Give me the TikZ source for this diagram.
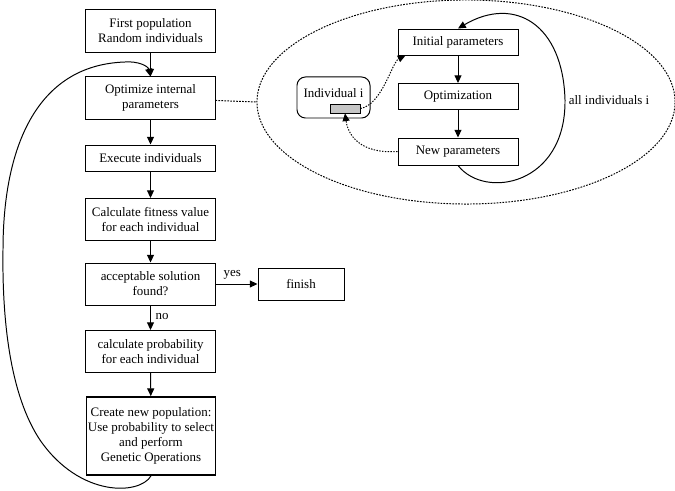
\documentclass[tikz,border=0pt]{standalone}
\usepackage{fontspec}
\setmainfont{Liberation Serif}
\usetikzlibrary{shapes.geometric, arrows.meta, positioning}

\begin{document}
\begin{tikzpicture}[x=0.025cm, y=-0.025cm,
    % Styles
    stepbox/.style={
        rectangle,
        draw,
        line width=0.7pt,
        minimum width=3.225cm,
        minimum height=1.05cm,
        align=center,
        inner sep=1pt,
        font=\fontsize{9.2}{10.6}\selectfont
    },
    innerbox/.style={stepbox, minimum width=3cm, minimum height=0.65cm},
    arrow/.style={
        -{Triangle[length=5.5pt,width=5pt]},
        line width=0.7pt
    },
    dotarrow/.style={
        -{Triangle[length=5.5pt,width=5pt]},
        line width=0.7pt,
        dash pattern=on 1pt off 1pt
    },
    label/.style={font=\fontsize{9.2}{10.6}\selectfont}
]
\useasboundingbox (0,0) rectangle (675,491);

% Main flow
\node[stepbox] (first) at (150.5,31) {First population\\Random individuals};
\node[stepbox] (optim) at (150.5,98) {Optimize internal\\parameters};
\node[stepbox, minimum height=0.65cm] (exec) at (150.5,158) {Execute individuals};
\node[stepbox] (fitness) at (150.5,219.5) {Calculate fitness value\\for each individual};
\node[stepbox] (accept) at (150.5,284) {acceptable solution\\found?};
\node[stepbox] (prob) at (150.5,351.5) {calculate probability\\for each individual};
\node[stepbox, line width=1.2pt, minimum height=1.95cm, inner sep=0.5pt] (newpop) at (151,436)
    {Create new population:\\Use probability to select\\and perform\\Genetic Operations};
\node[stepbox, minimum width=2.15cm, minimum height=0.8cm] (finish) at (301,284) {finish};

% Optimization detail
\node[ellipse, draw, line width=0.7pt, dash pattern=on 1.2pt off 0.9pt,
      minimum width=10.45cm, minimum height=5.1cm] (zone) at (466,102) {};
\node[innerbox] (init) at (458,42) {Initial parameters};
\node[innerbox] (opt) at (458,96.5) {Optimization};
\node[innerbox, minimum height=0.675cm] (newp) at (458,151.5) {New parameters};
\node[stepbox, rounded corners=6pt, minimum width=1.825cm, minimum height=1.025cm,
      text depth=6pt] (indiv) at (333.5,97.5) {Individual i};
\node[rectangle, draw, fill=gray!45, line width=0.5pt, minimum width=0.75cm,
      minimum height=0.225cm, inner sep=0pt] (patch) at (345,108.5) {};
\node[label] (allind) at (609,100) {all individuals i};

% Arrows
\draw[arrow] (first) -- (optim);
\draw[arrow] (optim) -- (exec);
\draw[arrow] (exec) -- (fitness);
\draw[arrow] (fitness) -- (accept);
\draw[arrow] (accept) -- node[label, above, pos=0.4] {yes} (finish);
\draw[arrow] (accept) -- node[label, right, pos=0.45] {no} (prob);
\draw[arrow] (prob) -- (newpop);
\draw[arrow] (newpop.south) .. controls (140,495) and (80,498) .. (40,440)
    .. controls (10,395) and (2,320) .. (3,250)
    .. controls (3,150) and (35,65) .. (125,62)
    .. controls (138,61) and (148,66) .. (optim.north);
\draw[line width=0.7pt, dash pattern=on 1.2pt off 0.9pt] (optim) -- (zone.west);

\draw[arrow] (init) -- (opt);
\draw[arrow] (opt) -- (newp);
\draw[arrow] (newp.south) .. controls (485,200) and (566,185) .. (565,100)
    .. controls (563,25) and (515,-5) .. (init.north);
\draw[dotarrow] (patch.east) .. controls (382,105) and (392,62) .. ([xshift=0.2cm]init.south west);
\draw[dotarrow] (newp.west) .. controls (360,154) and (348,135) .. (patch.south);

\end{tikzpicture}
\end{document}
